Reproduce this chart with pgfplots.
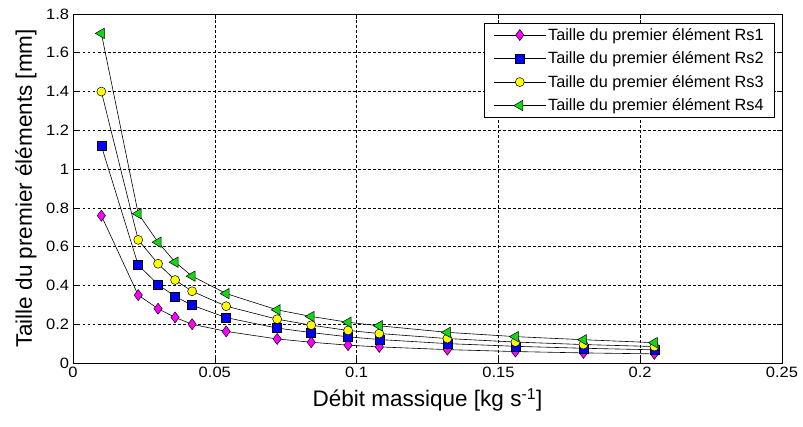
\documentclass[border=0pt]{standalone}
\usepackage{pgfplots}
\pgfplotsset{compat=1.18}
\usepackage{fontspec}
\setmainfont{Liberation Sans}
\usetikzlibrary{plotmarks}
\definecolor{mmag}{RGB}{255,0,255}
\definecolor{mblue}{RGB}{0,0,255}
\definecolor{myel}{RGB}{255,255,0}
\definecolor{mgreen}{RGB}{20,215,20}
\pgfplotstableread{
x rsa rsb rsc rsd
0.010 0.760 1.120 1.400 1.700
0.023 0.350 0.505 0.635 0.770
0.030 0.280 0.405 0.512 0.623
0.036 0.235 0.343 0.428 0.520
0.042 0.200 0.298 0.370 0.448
0.054 0.163 0.234 0.293 0.358
0.072 0.124 0.180 0.226 0.274
0.084 0.107 0.157 0.195 0.240
0.097 0.092 0.135 0.168 0.210
0.108 0.083 0.121 0.152 0.192
0.132 0.069 0.100 0.126 0.158
0.156 0.059 0.086 0.108 0.136
0.180 0.052 0.076 0.095 0.120
0.205 0.047 0.068 0.085 0.105
}\datatable
\begin{document}
\begin{tikzpicture}[x=1pt,y=1pt]
\useasboundingbox (-73,-64) rectangle (730,363);
\begin{axis}[
  at={(0,0)}, anchor=south west,
  scale only axis, width=709pt, height=349pt,
  xmin=0, xmax=0.25, ymin=0, ymax=1.8,
  xtick={0,0.05,0.1,0.15,0.2,0.25},
  xticklabels={0,0.05,0.1,0.15,0.2,0.25},
  ytick={0,0.2,0.4,0.6,0.8,1,1.2,1.4,1.6,1.8},
  yticklabels={0,0.2,0.4,0.6,0.8,1,1.2,1.4,1.6,1.8},
  tick align=inside,
  major tick length=5pt,
  tick style={black, line width=0.6pt},
  axis line style={black, line width=0.8pt},
  grid=major,
  major grid style={black, line width=0.6pt, dash pattern=on 2.5pt off 2.5pt},
  ticklabel style={font=\fontsize{15}{17}\selectfont, xscale=1.1},
  /pgf/number format/assume math mode=true,
  xlabel={Débit massique [kg s\textsuperscript{-1}]},
  ylabel={Taille du premier éléments [mm]},
  every axis x label/.style={at={(axis description cs:0.5,0)}, yshift=-37pt, anchor=center, font=\fontsize{22.5}{25}\selectfont},
  every axis y label/.style={at={(axis description cs:0,0.5)}, xshift=-47pt, rotate=90, anchor=center, font=\fontsize{22.5}{25}\selectfont},
  legend style={at={(rel axis cs:1,1)}, anchor=north east, xshift=-7pt, yshift=-9pt,
    font=\fontsize{16.3}{18}\selectfont, draw=black, line width=0.6pt, row sep=6pt,
    inner xsep=9pt, inner ysep=3pt, legend cell align=left},
  legend image code/.code={\draw[mark repeat=2,mark phase=2] plot coordinates {(0pt,0pt) (26pt,0pt) (52pt,0pt)};},
]
\addplot[black, line width=0.6pt, mark=diamond*, mark size=5.5pt, mark options={solid, fill=mmag, draw=black, line width=0.5pt, scale=1}] table[x=x,y=rsa] {\datatable};
\addlegendentry{Taille du premier élément Rs1}
\addplot[black, line width=0.6pt, mark=square*, mark size=4.5pt, mark options={solid, fill=mblue, draw=black, line width=0.5pt}] table[x=x,y=rsb] {\datatable};
\addlegendentry{Taille du premier élément Rs2}
\addplot[black, line width=0.6pt, mark=*, mark size=4.5pt, mark options={solid, fill=myel, draw=black, line width=0.5pt}] table[x=x,y=rsc] {\datatable};
\addlegendentry{Taille du premier élément Rs3}
\addplot[black, line width=0.6pt, mark=triangle*, mark size=6pt, mark options={solid, fill=mgreen, draw=black, line width=0.5pt, rotate=90}] table[x=x,y=rsd] {\datatable};
\addlegendentry{Taille du premier élément Rs4}
\end{axis}
\end{tikzpicture}
\end{document}
